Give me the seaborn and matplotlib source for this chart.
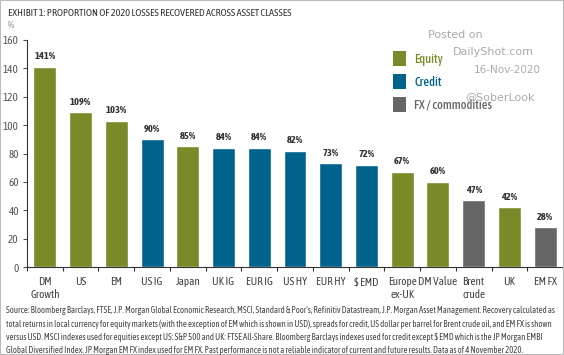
import pandas as pd
import matplotlib.pyplot as plt
import seaborn as sns
from matplotlib.patches import Patch

# data
categories = ['DM\nGrowth', 'US', 'EM', 'US IG', 'Japan', 'UK IG', 'EUR IG', 'US HY',
              'EUR HY', '$ EMD', 'Europe\nex-UK', 'DM Value', 'Brent\ncrude', 'UK', 'EM FX']
recovered = [141, 109, 103, 90, 85, 84, 84, 82, 73, 72, 67, 60, 47, 42, 28]
asset_class = ['Equity', 'Equity', 'Equity', 'Credit', 'Equity', 'Credit', 'Credit', 'Credit',
               'Credit', 'Credit', 'Equity', 'Equity', 'FX / commodities', 'Equity',
               'FX / commodities']
y_ticks = [0, 20, 40, 60, 80, 100, 120, 140, 160]

colors = {'Equity': '#7b8a28', 'Credit': '#00638c', 'FX / commodities': '#666666'}

df = pd.DataFrame({'cat': categories, 'val': recovered, 'cls': asset_class})

sns.set_theme(style='white')
plt.rcParams['font.family'] = ['Asap Condensed', 'Archivo Narrow', 'DejaVu Sans']

fig = plt.figure(figsize=(5.64, 3.55), dpi=100)
ax = fig.add_axes([27 / 564, 1 - 267 / 355, 536 / 564, 227 / 355])

sns.barplot(data=df, x='cat', y='val', hue='cls', palette=colors, dodge=False, saturation=1,
            width=0.64, legend=False, ax=ax, order=categories)

ax.set_ylim(0, 160)
ax.set_xlim(-0.5, len(categories) - 0.5)
ax.set_yticks(y_ticks)
ax.set_xlabel('')
ax.set_ylabel('')
ax.tick_params(axis='y', labelsize=8, colors='#555555', length=3, width=0.8, direction='out', pad=3, left=True)
ax.tick_params(axis='x', labelsize=8, colors='#444444', length=0, pad=6.5)
ax.set_xticks(range(len(categories)))
ax.set_xticklabels(categories, linespacing=1.2)
# small ticks between the categories
ax.set_xticks([i + 0.5 for i in range(-1, len(categories))], minor=True)
ax.tick_params(axis='x', which='minor', length=3, width=0.8, color='#333333', bottom=True, direction='out')

for s in ['top', 'right']:
    ax.spines[s].set_visible(False)
for s in ['left', 'bottom']:
    ax.spines[s].set_color('#333333')
    ax.spines[s].set_linewidth(0.8)

for i, v in enumerate(recovered):
    ax.text(i, v + 4, f'{v}%', ha='center', va='bottom', fontsize=7.5, fontweight='bold', color='#333333')

fig.text(8 / 564, 1 - 13 / 355, 'EXHIBIT 1: PROPORTION OF 2020 LOSSES RECOVERED ACROSS ASSET CLASSES',
         fontsize=7.4, color='#333333', va='center', ha='left')
fig.text(8 / 564, 1 - 26 / 355, '%', fontsize=7, color='#888888', va='center', ha='left')

handles = [Patch(facecolor=colors[k], edgecolor='none') for k in colors]
leg = ax.legend(handles, list(colors), loc='upper left', bbox_to_anchor=(382 / 564, 1 - 40 / 355),
                bbox_transform=fig.transFigure, frameon=False, fontsize=9,
                handlelength=1.0, handleheight=1.4, labelspacing=0.68, handletextpad=0.7,
                labelcolor=[colors[k] for k in colors])
for t in leg.get_texts():
    t.set_fontweight('medium')

# watermark
wm = '#aaaaaa'
fig.text(455 / 564, 1 - 35 / 355, 'Posted on', fontsize=8, color=wm, ha='center', va='center', family='DejaVu Sans')
fig.text(493 / 564, 1 - 52 / 355, 'DailyShot.com', fontsize=8, color=wm, ha='center', va='center', family='DejaVu Sans')
fig.text(507 / 564, 1 - 70 / 355, '16-Nov-2020', fontsize=7.5, color=wm, ha='center', va='center', family='DejaVu Sans')
fig.text(500 / 564, 1 - 97 / 355, '@SoberLook', fontsize=8, color=wm, ha='center', va='center', family='DejaVu Sans')

note = ("Source: Bloomberg Barclays, FTSE, J.P. Morgan Global Economic Research, MSCI, Standard & Poor's, Refinitiv Datastream, J.P. Morgan Asset Management. Recovery calculated as\n"
        "total returns in local currency for equity markets (with the exception of EM which is shown in USD), spreads for credit, US dollar per barrel for Brent crude oil, and EM FX is shown\n"
        "versus USD. MSCI indexes used for equities except US: S&P 500 and UK: FTSE All-Share. Bloomberg Barclays indexes used for credit except $ EMD which is the JP Morgan EMBI\n"
        "Global Diversified Index. JP Morgan EM FX index used for EM FX. Past performance is not a reliable indicator of current and future results. Data as of 4 November 2020.")
fig.text(6 / 564, 1 - 306 / 355, note, fontsize=6.2, color='#444444', va='top', ha='left', linespacing=1.6)

# thin grey frame round the picture
fig.patches.append(plt.Rectangle((0, 0), 1, 1, transform=fig.transFigure, fill=False,
                                 edgecolor='#bbbbbb', linewidth=1.5))

fig.savefig('out.png', dpi=100)
